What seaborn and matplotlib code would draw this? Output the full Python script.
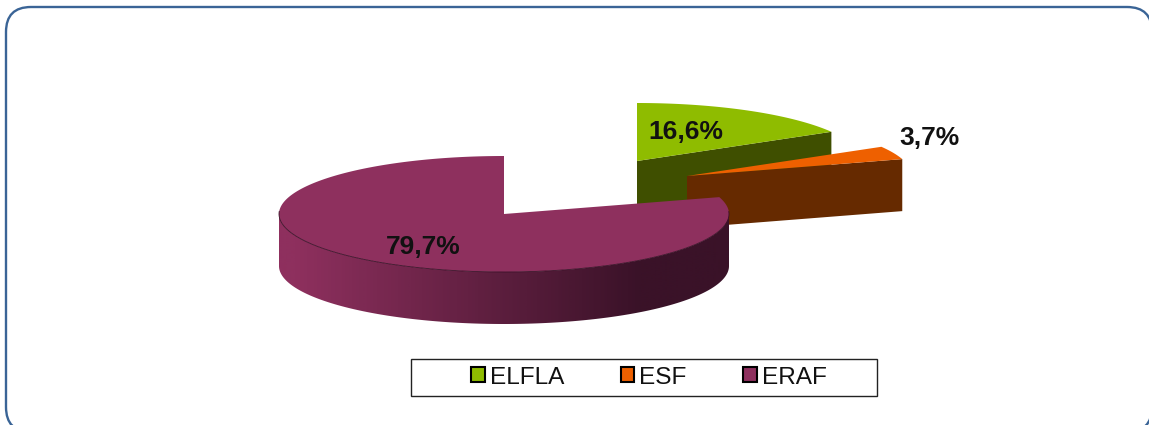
import numpy as np
import matplotlib
matplotlib.use('Agg')
import matplotlib.pyplot as plt
from matplotlib.patches import FancyBboxPatch, Rectangle, Patch, Polygon
import seaborn as sns

# data
funds = ['ELFLA', 'ESF', 'ERAF']
shares = [16.6, 3.7, 79.7]

# look of the slices
top_colors = ['#8fbc00', '#ee6000', '#8e305e']
side_colors = ['#3f4f00', '#662a00', '#3a1228']
centers = [(637, 161), (687, 176), (504, 214)]  # exploded slice centres in pixels
label_pos = [(686, 132), (929, 138), (423, 247)]
rx, ry, depth = 225, 58, 52

sns.set_theme(style='white')
plt.rcParams['font.family'] = ['Liberation Sans', 'DejaVu Sans']

fig = plt.figure(figsize=(11.49, 4.25), dpi=100)
ax = fig.add_axes([0, 0, 1, 1])
ax.axis('off')

# rounded frame, runs off the picture at the bottom and right
ax.add_patch(FancyBboxPatch((31, 32), 1096, 375, boxstyle='round,pad=25,rounding_size=25',
                            fc='white', ec='#3a6496', lw=1.7, clip_on=True))

# slices start at 12 o'clock and run clockwise
start = 90.0
for i in range(len(funds)):
    sweep = shares[i] * 3.6
    end = start - sweep
    cx, cy = centers[i]
    t = np.radians(np.linspace(start, end, 300))
    x = cx + rx * np.cos(t)
    y = cy - ry * np.sin(t)

    if funds[i] == 'ERAF':
        # front wall, shaded from left to right
        front = np.where(np.sin(t) <= 0.0)[0]
        front = front[np.argsort(x[front])]
        shades = sns.blend_palette([top_colors[i], side_colors[i]], n_colors=100)
        pos = np.clip((np.linspace(0, 1, 451) - 0.03) / 0.77, 0, 1)
        grad = np.array(shades)[(pos * 99).astype(int)][np.newaxis, :, :]
        img = ax.imshow(grad, extent=(cx - rx, cx + rx, cy + ry + depth, cy - ry), aspect='auto', zorder=3 + i)
        wall = Polygon(np.c_[np.r_[x[front], x[front][::-1]],
                             np.r_[y[front], y[front][::-1] + depth]],
                       transform=ax.transData, fc='none', ec='none')
        ax.add_patch(wall)
        img.set_clip_path(wall)
    else:
        # cut face below the lower straight edge
        ax.fill([cx, x[-1], x[-1], cx], [cy, y[-1], y[-1] + depth, cy + depth],
                color=side_colors[i], lw=0, zorder=3 + i)

    ax.fill(np.r_[cx, x], np.r_[cy, y], color=top_colors[i], lw=0, zorder=3.5 + i)
    if funds[i] == 'ERAF':
        ax.plot(x[np.sin(t) <= 0.05], y[np.sin(t) <= 0.05], color='#3a1228', lw=0.6, zorder=3.6 + i)

    ax.text(label_pos[i][0], label_pos[i][1], f'{shares[i]:.1f}%'.replace('.', ','),
            ha='center', va='center', fontsize=19, fontweight='bold', color='#111111', zorder=10)
    start = end

# legend box, drawn by hand because it is wider than its entries
ax.add_patch(Rectangle((410.5, 358.5), 466, 37, fc='white', ec='#222222', lw=1, zorder=8))
handles = [Patch(fc=c, ec='black', lw=1.5) for c in top_colors]
ax.legend(handles, funds, loc='center', bbox_to_anchor=(649 / 1149, 1 - 377.5 / 425), ncols=3,
          frameon=False, fontsize=17.6, handlelength=0.55, handleheight=0.55, handletextpad=0.2,
          columnspacing=2.32, labelcolor='#111111').set_zorder(9)

ax.set_xlim(0, 1149)
ax.set_ylim(425, 0)

fig.savefig('out.png', dpi=100)
